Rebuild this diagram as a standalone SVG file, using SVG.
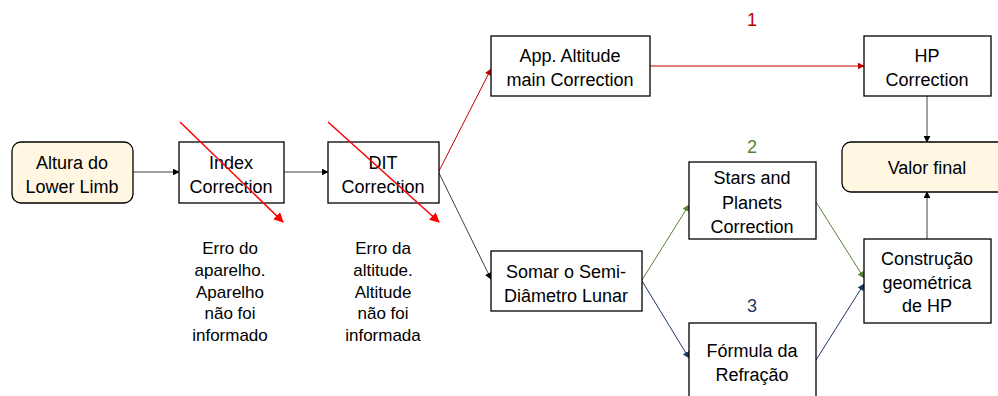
<svg xmlns="http://www.w3.org/2000/svg" width="998" height="396" viewBox="0 0 998 396">
<style>
.box{fill:#ffffff;stroke:#000000;stroke-width:1.3}
.term{fill:#fff7e2;stroke:#000000;stroke-width:1.3}
text{font-family:"Liberation Sans",Arial,sans-serif;font-size:18px;fill:#000000;text-anchor:middle}
.note{font-size:17px}
.c{fill:none;stroke-width:1}
</style>
<defs>
<marker id="ak" viewBox="0 0 10 10" refX="9" refY="5" markerWidth="7" markerHeight="7" markerUnits="userSpaceOnUse" orient="auto"><path d="M0,0L10,5L0,10z" fill="#000000"/></marker>
<marker id="ar" viewBox="0 0 10 10" refX="9" refY="5" markerWidth="7" markerHeight="7" markerUnits="userSpaceOnUse" orient="auto"><path d="M0,0L10,5L0,10z" fill="#c00000"/></marker>
<marker id="ag" viewBox="0 0 10 10" refX="9" refY="5" markerWidth="7" markerHeight="7" markerUnits="userSpaceOnUse" orient="auto"><path d="M0,0L10,5L0,10z" fill="#548235"/></marker>
<marker id="ab" viewBox="0 0 10 10" refX="9" refY="5" markerWidth="7" markerHeight="7" markerUnits="userSpaceOnUse" orient="auto"><path d="M0,0L10,5L0,10z" fill="#1f3864"/></marker>
<marker id="ax" viewBox="0 0 10 10" refX="9" refY="5" markerWidth="10" markerHeight="10" markerUnits="userSpaceOnUse" orient="auto"><path d="M0,0L10,5L0,10z" fill="#ff0000"/></marker>
</defs>

<g id="connectors">
<line class="c" x1="133" y1="172" x2="179" y2="172" stroke="#404040" marker-end="url(#ak)"/>
<line class="c" x1="284" y1="172" x2="328" y2="172" stroke="#404040" marker-end="url(#ak)"/>
<line class="c" x1="439" y1="171" x2="491" y2="69" stroke="#c00000" marker-end="url(#ar)"/>
<line class="c" x1="439" y1="173" x2="491" y2="279" stroke="#404040" marker-end="url(#ak)"/>
<line class="c" x1="650" y1="66" x2="864" y2="66" stroke="#c00000" marker-end="url(#ar)"/>
<line class="c" x1="927" y1="96" x2="927" y2="142" stroke="#404040" marker-end="url(#ak)"/>
<line class="c" x1="642" y1="280" x2="689" y2="205" stroke="#548235" marker-end="url(#ag)"/>
<line class="c" x1="642" y1="281" x2="689" y2="358" stroke="#1f3864" marker-end="url(#ab)"/>
<line class="c" x1="816" y1="202" x2="864" y2="278" stroke="#548235" marker-end="url(#ag)"/>
<line class="c" x1="816" y1="360" x2="864" y2="284" stroke="#1f3864" marker-end="url(#ab)"/>
<line class="c" x1="927" y1="239" x2="927" y2="192" stroke="#404040" marker-end="url(#ak)"/>
</g>

<g id="altura">
<rect class="term" x="12" y="142" width="121" height="61" rx="9"/>
<text x="72" y="169">Altura do</text>
<text x="72" y="193">Lower Limb</text>
</g>
<g id="index">
<rect class="box" x="179" y="142" width="105" height="61"/>
<text x="231" y="169">Index</text>
<text x="231" y="193">Correction</text>
</g>
<g id="dit">
<rect class="box" x="328" y="142" width="111" height="61"/>
<text x="383" y="169">DIT</text>
<text x="383" y="193">Correction</text>
</g>
<g id="app">
<rect class="box" x="491" y="36" width="159" height="60"/>
<text x="570" y="62">App. Altitude</text>
<text x="570" y="86">main Correction</text>
</g>
<g id="hp">
<rect class="box" x="864" y="36" width="127" height="60"/>
<text x="927" y="62">HP</text>
<text x="927" y="86">Correction</text>
</g>
<g id="valor">
<rect class="term" x="842" y="142" width="171" height="50" rx="9"/>
<text x="927" y="174">Valor final</text>
</g>
<g id="stars">
<rect class="box" x="689" y="162" width="127" height="77"/>
<text x="752" y="184">Stars and</text>
<text x="752" y="209">Planets</text>
<text x="752" y="233">Correction</text>
</g>
<g id="somar">
<rect class="box" x="491" y="251" width="151" height="60"/>
<text x="566" y="278">Somar o Semi-</text>
<text x="566" y="302">Diâmetro Lunar</text>
</g>
<g id="formula">
<rect class="box" x="689" y="323" width="127" height="78"/>
<text x="752" y="357">Fórmula da</text>
<text x="752" y="381">Refração</text>
</g>
<g id="construcao">
<rect class="box" x="864" y="239" width="127" height="84"/>
<text x="927" y="265">Construção</text>
<text x="927" y="289">geométrica</text>
<text x="927" y="312">de HP</text>
</g>

<g id="labels">
<text x="752" y="26" style="fill:#c00000">1</text>
<text x="752" y="153" style="fill:#548235">2</text>
<text x="752" y="312" style="fill:#1f3864">3</text>
</g>

<g id="strikes">
<line x1="180" y1="122" x2="283" y2="222" stroke="#ff0000" stroke-width="1.5" marker-end="url(#ax)"/>
<line x1="328" y1="122" x2="439" y2="222" stroke="#ff0000" stroke-width="1.5" marker-end="url(#ax)"/>
</g>

<g id="note-index">
<text class="note" x="230" y="254">Erro do</text>
<text class="note" x="230" y="276">aparelho.</text>
<text class="note" x="230" y="298">Aparelho</text>
<text class="note" x="230" y="319">não foi</text>
<text class="note" x="230" y="341">informado</text>
</g>
<g id="note-dit">
<text class="note" x="383" y="254">Erro da</text>
<text class="note" x="383" y="276">altitude.</text>
<text class="note" x="383" y="298">Altitude</text>
<text class="note" x="383" y="319">não foi</text>
<text class="note" x="383" y="341">informada</text>
</g>
</svg>
